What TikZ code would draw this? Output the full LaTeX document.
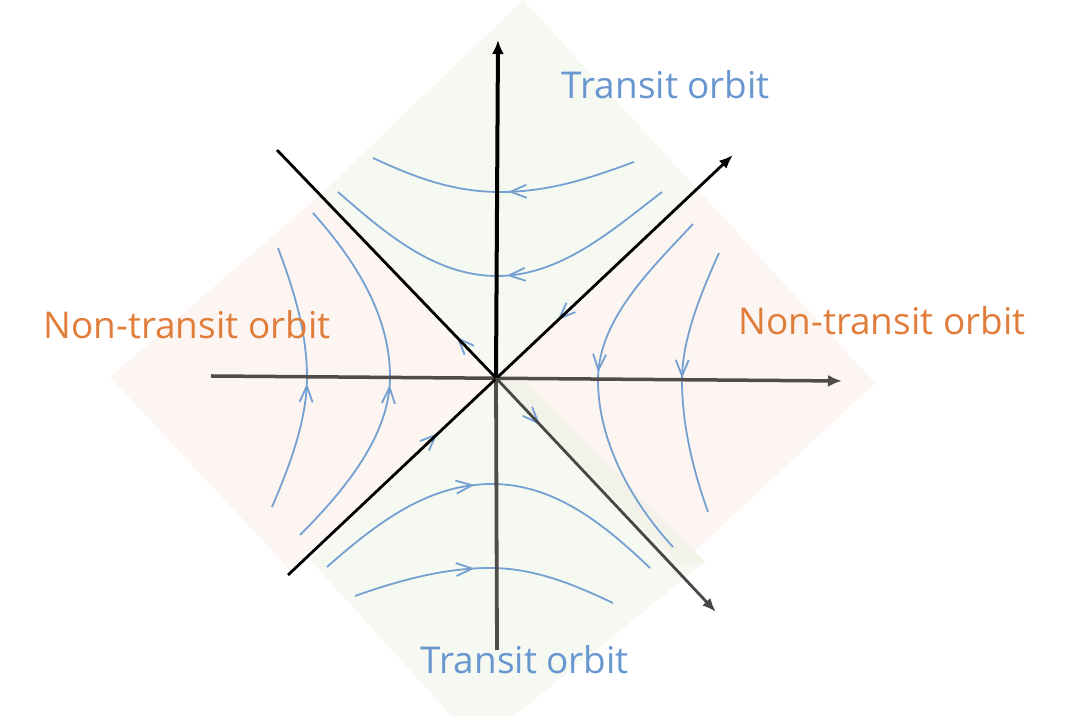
\documentclass[tikz,border=0pt]{standalone}
\usepackage{fontspec}
\setmainfont{Open Sans}
\usepackage{xcolor}
\usepackage{tikz}
\usetikzlibrary{arrows.meta, calc, decorations.markings}

\definecolor{transitblue}{RGB}{104,151,208}
\definecolor{nontransorange}{RGB}{224,125,58}
\definecolor{flowblue}{RGB}{116,160,210}
\definecolor{greenfill}{RGB}{246,249,242}
\definecolor{pinkfill}{RGB}{252,245,242}
\definecolor{overlapfill}{RGB}{243,242,233}
\definecolor{axisgray}{RGB}{80,76,74}

\begin{document}
\begin{tikzpicture}[
        x=0.01cm, y=-0.01cm,
        region/.style={fill=#1, draw=none},
        flow/.style={draw=flowblue, line width=0.018cm, postaction={decorate},
            decoration={markings, mark=at position #1 with {\arrow{Straight Barb[length=1.6mm, width=1.3mm]}}}},
        flow/.default=0.5,
        manifold/.style={draw=flowblue, line width=0.018cm, -{Straight Barb[length=1.6mm, width=1.3mm]}},
        axisline/.style={line width=0.035cm, -{Latex[length=1.4mm, width=1.2mm]}},
        diagline/.style={line width=0.028cm},
        orbitlbl/.style={text=#1, font=\fontsize{10.5pt}{12pt}\selectfont, inner sep=0pt, anchor=base},
    ]
    \useasboundingbox (0,0) rectangle (1078,716);
    \clip (0,0) rectangle (1078,716);

    % ---- Key points ----
    \coordinate (O) at (496,378);
    \coordinate (ytop) at (498,40);
    \coordinate (ybot) at (497,650);
    \coordinate (xleft) at (211,376);
    \coordinate (xright) at (842,381);
    \coordinate (ne) at (733,155);
    \coordinate (sw) at (288,575);
    \coordinate (nw) at (277,150);
    \coordinate (se) at (716,612);

    % ---- Shaded regions ----
    \fill[region=greenfill] (O) -- (320,195) -- (523,0) -- (700,192) -- cycle;
    \fill[region=greenfill] (O) -- (310,560) -- (478,745) -- (705,562) -- (522,378) -- cycle;
    \fill[region=pinkfill] (O) -- (320,195) -- (110,377) -- (290,570) -- cycle;
    \fill[region=pinkfill] (O) -- (700,192) -- (875,383) -- (680,565) -- cycle;
    \fill[region=overlapfill] (O) -- (522,378) -- (705,562) -- (680,565) -- cycle;

    % ---- Transit orbits (top) ----
    \draw[flow=0.48] (634,162) .. controls (590,178) and (550,192) .. (500,192) .. controls (450,192) and (410,175) .. (373,158);
    \draw[flow=0.48] (662,192) .. controls (610,232) and (560,276) .. (497,276) .. controls (434,276) and (384,232) .. (338,192);

    % ---- Transit orbits (bottom) ----
    \draw[flow=0.46] (327,567) .. controls (380,520) and (430,484) .. (492,484) .. controls (555,484) and (605,525) .. (650,568);
    \draw[flow=0.46] (355,596) .. controls (400,580) and (445,568) .. (490,568) .. controls (535,568) and (575,585) .. (613,603);

    % ---- Non-transit orbits ----
    \draw[flow=0.48] (693,224) .. controls (650,270) and (598,320) .. (598,380) .. controls (598,440) and (630,500) .. (673,547);
    \draw[flow=0.49] (719,253) .. controls (700,295) and (682,340) .. (682,380) .. controls (682,425) and (693,470) .. (708,512);
    \draw[flow=0.48] (272,507) .. controls (290,465) and (307,420) .. (307,377) .. controls (307,330) and (292,285) .. (278,248);
    \draw[flow=0.48] (300,535) .. controls (345,490) and (390,435) .. (390,377) .. controls (390,315) and (355,260) .. (313,213);

    % ---- Flow on the manifolds ----
    \draw[manifold] ($(O)!0.12!(nw)$) -- ($(O)!0.18!(nw)$);
    \draw[manifold] ($(O)!0.32!(ne)$) -- ($(O)!0.26!(ne)$);
    \draw[manifold] ($(O)!0.34!(sw)$) -- ($(O)!0.28!(sw)$);
    \draw[manifold] ($(O)!0.14!(se)$) -- ($(O)!0.20!(se)$);

    % ---- Axes ----
    \draw[line width=0.038cm, draw=axisgray] (ybot) -- (O);
    \draw[axisline, black, line width=0.04cm] (O) -- (ytop);
    \draw[axisline, axisgray] (xleft) -- (xright);
    \draw[diagline, -{Latex[length=1.4mm, width=1.1mm]}] (sw) -- (ne);
    \draw[diagline] (nw) -- (O);
    \draw[diagline, draw=black!72, -{Latex[length=1.4mm, width=1.1mm]}] (O) -- (se);

    % ---- Labels ----
    \node[orbitlbl=transitblue] (transtop) at (666,99) {Transit orbit};
    \node[orbitlbl=transitblue] (transbot) at (525,674) {Transit orbit};
    \node[orbitlbl=nontransorange] (nonleft) at (187,339) {Non-transit orbit};
    \node[orbitlbl=nontransorange] (nonright) at (882,335) {Non-transit orbit};
\end{tikzpicture}
\end{document}
